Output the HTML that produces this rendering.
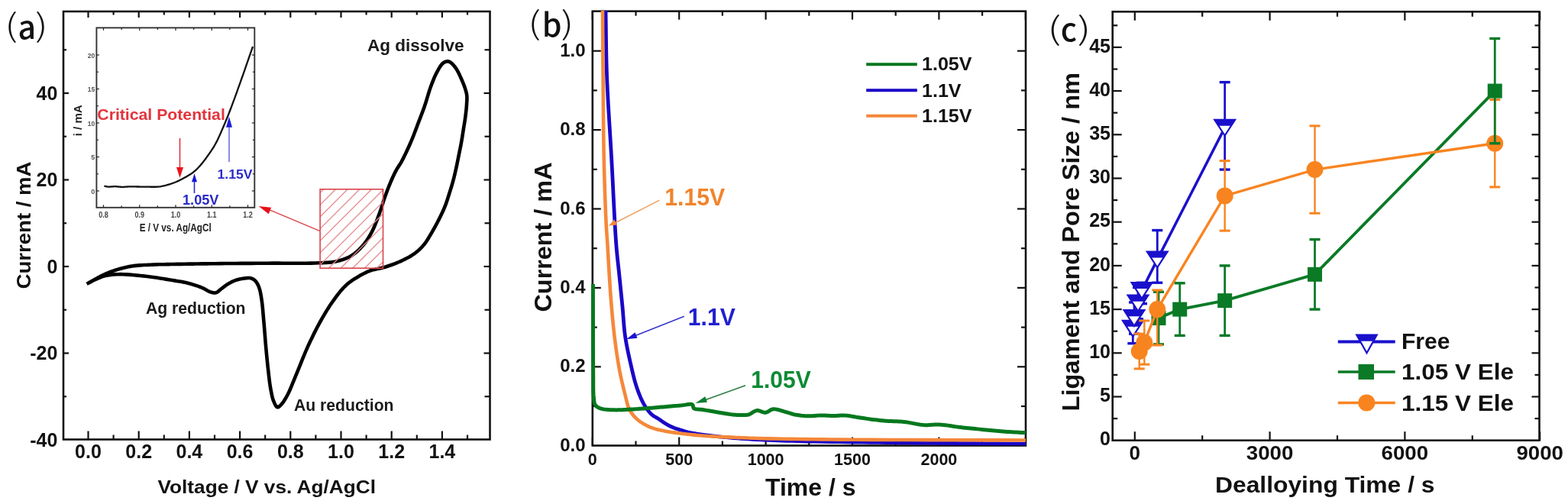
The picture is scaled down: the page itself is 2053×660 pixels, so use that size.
<!DOCTYPE html>
<html><head><meta charset="utf-8"><title>Figure</title>
<style>
html,body{margin:0;padding:0;background:#fff;}
svg{display:block;}
</style></head>
<body>
<svg width="2053" height="660" viewBox="0 0 2053 660" font-family="'Liberation Sans', Arial, Helvetica, sans-serif">
<rect x="0" y="0" width="2053" height="660" fill="#fff"/>
<rect x='83' y='15' width='558.5' height='560.5' fill='none' stroke='#111' stroke-width='2.6'/>
<line x1='115.5' y1='575.5' x2='115.5' y2='564.5' stroke='#111' stroke-width='2.2'/>
<line x1='115.5' y1='15' x2='115.5' y2='23' stroke='#111' stroke-width='2.2'/>
<line x1='148.6' y1='575.5' x2='148.6' y2='569.5' stroke='#111' stroke-width='2.2'/>
<line x1='148.6' y1='15' x2='148.6' y2='19.5' stroke='#111' stroke-width='2.2'/>
<line x1='181.7' y1='575.5' x2='181.7' y2='564.5' stroke='#111' stroke-width='2.2'/>
<line x1='181.7' y1='15' x2='181.7' y2='23' stroke='#111' stroke-width='2.2'/>
<line x1='214.8' y1='575.5' x2='214.8' y2='569.5' stroke='#111' stroke-width='2.2'/>
<line x1='214.8' y1='15' x2='214.8' y2='19.5' stroke='#111' stroke-width='2.2'/>
<line x1='247.9' y1='575.5' x2='247.9' y2='564.5' stroke='#111' stroke-width='2.2'/>
<line x1='247.9' y1='15' x2='247.9' y2='23' stroke='#111' stroke-width='2.2'/>
<line x1='281' y1='575.5' x2='281' y2='569.5' stroke='#111' stroke-width='2.2'/>
<line x1='281' y1='15' x2='281' y2='19.5' stroke='#111' stroke-width='2.2'/>
<line x1='314.1' y1='575.5' x2='314.1' y2='564.5' stroke='#111' stroke-width='2.2'/>
<line x1='314.1' y1='15' x2='314.1' y2='23' stroke='#111' stroke-width='2.2'/>
<line x1='347.2' y1='575.5' x2='347.2' y2='569.5' stroke='#111' stroke-width='2.2'/>
<line x1='347.2' y1='15' x2='347.2' y2='19.5' stroke='#111' stroke-width='2.2'/>
<line x1='380.3' y1='575.5' x2='380.3' y2='564.5' stroke='#111' stroke-width='2.2'/>
<line x1='380.3' y1='15' x2='380.3' y2='23' stroke='#111' stroke-width='2.2'/>
<line x1='413.4' y1='575.5' x2='413.4' y2='569.5' stroke='#111' stroke-width='2.2'/>
<line x1='413.4' y1='15' x2='413.4' y2='19.5' stroke='#111' stroke-width='2.2'/>
<line x1='446.5' y1='575.5' x2='446.5' y2='564.5' stroke='#111' stroke-width='2.2'/>
<line x1='446.5' y1='15' x2='446.5' y2='23' stroke='#111' stroke-width='2.2'/>
<line x1='479.6' y1='575.5' x2='479.6' y2='569.5' stroke='#111' stroke-width='2.2'/>
<line x1='479.6' y1='15' x2='479.6' y2='19.5' stroke='#111' stroke-width='2.2'/>
<line x1='512.7' y1='575.5' x2='512.7' y2='564.5' stroke='#111' stroke-width='2.2'/>
<line x1='512.7' y1='15' x2='512.7' y2='23' stroke='#111' stroke-width='2.2'/>
<line x1='545.8' y1='575.5' x2='545.8' y2='569.5' stroke='#111' stroke-width='2.2'/>
<line x1='545.8' y1='15' x2='545.8' y2='19.5' stroke='#111' stroke-width='2.2'/>
<line x1='578.9' y1='575.5' x2='578.9' y2='564.5' stroke='#111' stroke-width='2.2'/>
<line x1='578.9' y1='15' x2='578.9' y2='23' stroke='#111' stroke-width='2.2'/>
<line x1='612' y1='575.5' x2='612' y2='569.5' stroke='#111' stroke-width='2.2'/>
<line x1='612' y1='15' x2='612' y2='19.5' stroke='#111' stroke-width='2.2'/>
<line x1='83' y1='519.25' x2='87' y2='519.25' stroke='#111' stroke-width='2.2'/>
<line x1='641.5' y1='519.25' x2='634.5' y2='519.25' stroke='#111' stroke-width='2.2'/>
<line x1='83' y1='462.5' x2='90' y2='462.5' stroke='#111' stroke-width='2.2'/>
<line x1='641.5' y1='462.5' x2='633.5' y2='462.5' stroke='#111' stroke-width='2.2'/>
<line x1='83' y1='405.75' x2='87' y2='405.75' stroke='#111' stroke-width='2.2'/>
<line x1='641.5' y1='405.75' x2='634.5' y2='405.75' stroke='#111' stroke-width='2.2'/>
<line x1='83' y1='349' x2='90' y2='349' stroke='#111' stroke-width='2.2'/>
<line x1='641.5' y1='349' x2='633.5' y2='349' stroke='#111' stroke-width='2.2'/>
<line x1='83' y1='292.25' x2='87' y2='292.25' stroke='#111' stroke-width='2.2'/>
<line x1='641.5' y1='292.25' x2='634.5' y2='292.25' stroke='#111' stroke-width='2.2'/>
<line x1='83' y1='235.5' x2='90' y2='235.5' stroke='#111' stroke-width='2.2'/>
<line x1='641.5' y1='235.5' x2='633.5' y2='235.5' stroke='#111' stroke-width='2.2'/>
<line x1='83' y1='178.75' x2='87' y2='178.75' stroke='#111' stroke-width='2.2'/>
<line x1='641.5' y1='178.75' x2='634.5' y2='178.75' stroke='#111' stroke-width='2.2'/>
<line x1='83' y1='122' x2='90' y2='122' stroke='#111' stroke-width='2.2'/>
<line x1='641.5' y1='122' x2='633.5' y2='122' stroke='#111' stroke-width='2.2'/>
<line x1='83' y1='65.25' x2='87' y2='65.25' stroke='#111' stroke-width='2.2'/>
<line x1='641.5' y1='65.25' x2='634.5' y2='65.25' stroke='#111' stroke-width='2.2'/>
<text x='115.5' y='600' font-size='25' font-weight='bold' fill='#111' text-anchor='middle'>0.0</text>
<text x='181.7' y='600' font-size='25' font-weight='bold' fill='#111' text-anchor='middle'>0.2</text>
<text x='247.9' y='600' font-size='25' font-weight='bold' fill='#111' text-anchor='middle'>0.4</text>
<text x='314.1' y='600' font-size='25' font-weight='bold' fill='#111' text-anchor='middle'>0.6</text>
<text x='380.3' y='600' font-size='25' font-weight='bold' fill='#111' text-anchor='middle'>0.8</text>
<text x='446.5' y='600' font-size='25' font-weight='bold' fill='#111' text-anchor='middle'>1.0</text>
<text x='512.7' y='600' font-size='25' font-weight='bold' fill='#111' text-anchor='middle'>1.2</text>
<text x='578.9' y='600' font-size='25' font-weight='bold' fill='#111' text-anchor='middle'>1.4</text>
<text x='75.3' y='584.8' font-size='25' font-weight='bold' fill='#111' text-anchor='end'>-40</text>
<text x='75.3' y='471.3' font-size='25' font-weight='bold' fill='#111' text-anchor='end'>-20</text>
<text x='75.3' y='357.8' font-size='25' font-weight='bold' fill='#111' text-anchor='end'>0</text>
<text x='75.3' y='244.3' font-size='25' font-weight='bold' fill='#111' text-anchor='end'>20</text>
<text x='75.3' y='130.8' font-size='25' font-weight='bold' fill='#111' text-anchor='end'>40</text>
<text x='206.5' y='646' font-size='24.5' font-weight='bold' fill='#111' textLength='285.5' lengthAdjust='spacingAndGlyphs'>Voltage / V vs. Ag/AgCl</text>
<text x='40' y='378.5' font-size='25.5' font-weight='bold' fill='#111' textLength='167' lengthAdjust='spacingAndGlyphs' transform='rotate(-90 40 378.5)'>Current / mA</text>
<text x='481' y='67' font-size='22.3' font-weight='bold' fill='#1a1a1a' textLength='126.5' lengthAdjust='spacingAndGlyphs'>Ag dissolve</text>
<text x='191' y='411' font-size='21.2' font-weight='bold' fill='#1a1a1a' textLength='130.5' lengthAdjust='spacingAndGlyphs'>Ag reduction</text>
<text x='385' y='537.5' font-size='21.2' font-weight='bold' fill='#1a1a1a' textLength='130.5' lengthAdjust='spacingAndGlyphs'>Au reduction</text>
<defs><clipPath id='boxclip'><rect x='419.1' y='247.8' width='82.4' height='103.4'/></clipPath></defs>
<path d='M113.6,371.8 L114.64,371.22 L115.66,370.64 L116.69,370.07 L117.71,369.49 L118.74,368.91 L119.77,368.33 L120.81,367.75 L121.86,367.17 L122.92,366.59 L124,366 L125.18,365.35 L126.38,364.7 L127.58,364.04 L128.79,363.37 L130.01,362.7 L131.25,362.04 L132.51,361.39 L133.79,360.74 L135.08,360.11 L136.4,359.5 L137.86,358.85 L139.34,358.2 L140.84,357.57 L142.36,356.95 L143.91,356.34 L145.47,355.74 L147.06,355.16 L148.68,354.59 L150.33,354.04 L152,353.5 L153.92,352.91 L155.88,352.33 L157.87,351.76 L159.89,351.22 L161.95,350.69 L164.03,350.19 L166.15,349.71 L168.3,349.27 L170.49,348.87 L172.7,348.5 L175.27,348.14 L177.9,347.84 L180.59,347.59 L183.33,347.39 L186.1,347.22 L188.89,347.07 L191.69,346.95 L194.48,346.83 L197.26,346.72 L200,346.6 L202.66,346.49 L205.26,346.4 L207.81,346.32 L210.35,346.27 L212.91,346.22 L215.52,346.18 L218.2,346.14 L220.99,346.1 L223.92,346.05 L227,346 L231.69,345.92 L236.67,345.83 L241.89,345.74 L247.33,345.66 L252.93,345.58 L258.65,345.49 L264.46,345.41 L270.32,345.34 L276.18,345.27 L282,345.2 L288.51,345.13 L295.14,345.07 L301.87,345.02 L308.68,344.97 L315.55,344.92 L322.45,344.87 L329.37,344.83 L336.28,344.79 L343.17,344.74 L350,344.7 L356.97,344.67 L364.21,344.67 L371.61,344.69 L379.04,344.72 L386.39,344.73 L393.56,344.73 L400.42,344.7 L406.85,344.62 L412.75,344.49 L418,344.3 L420.64,344.18 L423.08,344.08 L425.36,343.98 L427.5,343.87 L429.55,343.75 L431.53,343.59 L433.47,343.39 L435.41,343.13 L437.37,342.8 L439.4,342.4 L441.44,341.94 L443.47,341.45 L445.5,340.91 L447.53,340.33 L449.53,339.69 L451.5,338.99 L453.44,338.23 L455.35,337.39 L457.2,336.49 L459,335.5 L460.76,334.42 L462.49,333.24 L464.18,331.99 L465.84,330.66 L467.45,329.27 L469.02,327.82 L470.56,326.34 L472.05,324.81 L473.5,323.26 L474.9,321.7 L476.26,320.1 L477.57,318.46 L478.83,316.79 L480.05,315.07 L481.23,313.32 L482.38,311.53 L483.49,309.7 L484.58,307.84 L485.65,305.94 L486.7,304 L487.82,301.81 L488.9,299.55 L489.94,297.23 L490.94,294.85 L491.92,292.45 L492.87,290.01 L493.8,287.57 L494.71,285.13 L495.61,282.7 L496.5,280.3 L497.36,277.94 L498.18,275.56 L498.98,273.17 L499.76,270.78 L500.52,268.39 L501.28,266.01 L502.04,263.64 L502.81,261.29 L503.59,258.98 L504.4,256.7 L505.17,254.59 L505.95,252.48 L506.73,250.39 L507.52,248.3 L508.32,246.24 L509.11,244.21 L509.91,242.21 L510.71,240.26 L511.51,238.35 L512.3,236.5 L512.97,234.98 L513.63,233.49 L514.28,232.03 L514.94,230.6 L515.6,229.2 L516.26,227.83 L516.93,226.47 L517.61,225.13 L518.3,223.81 L519,222.5 L519.66,221.34 L520.32,220.24 L520.98,219.18 L521.65,218.15 L522.33,217.12 L523.02,216.07 L523.72,214.99 L524.43,213.84 L525.16,212.62 L525.9,211.3 L527.04,209.16 L528.24,206.83 L529.48,204.34 L530.76,201.73 L532.04,199.03 L533.33,196.27 L534.61,193.5 L535.86,190.74 L537.06,188.03 L538.2,185.4 L539.24,182.93 L540.26,180.46 L541.24,177.99 L542.2,175.51 L543.14,173.05 L544.07,170.59 L544.98,168.14 L545.89,165.71 L546.79,163.29 L547.7,160.9 L548.55,158.68 L549.4,156.49 L550.23,154.34 L551.06,152.19 L551.88,150.05 L552.7,147.91 L553.51,145.76 L554.31,143.57 L555.11,141.36 L555.9,139.1 L556.74,136.59 L557.56,134.01 L558.37,131.37 L559.17,128.71 L559.96,126.03 L560.76,123.37 L561.57,120.73 L562.39,118.14 L563.23,115.63 L564.1,113.2 L564.87,111.13 L565.65,109.08 L566.43,107.06 L567.23,105.06 L568.03,103.1 L568.85,101.19 L569.68,99.33 L570.53,97.52 L571.41,95.78 L572.3,94.1 L573.05,92.73 L573.81,91.35 L574.58,89.98 L575.36,88.65 L576.16,87.36 L576.97,86.14 L577.79,85.02 L578.64,84 L579.51,83.13 L580.4,82.4 L581.05,81.96 L581.72,81.57 L582.41,81.23 L583.1,80.93 L583.8,80.7 L584.51,80.52 L585.22,80.41 L585.92,80.36 L586.61,80.39 L587.3,80.5 L588.13,80.76 L588.96,81.15 L589.8,81.67 L590.63,82.29 L591.46,83 L592.28,83.78 L593.09,84.62 L593.88,85.5 L594.65,86.4 L595.4,87.3 L596.32,88.5 L597.22,89.79 L598.08,91.17 L598.93,92.63 L599.75,94.15 L600.55,95.72 L601.33,97.34 L602.1,98.98 L602.86,100.64 L603.6,102.3 L604.46,104.27 L605.35,106.34 L606.24,108.49 L607.12,110.69 L607.96,112.91 L608.75,115.14 L609.46,117.34 L610.09,119.48 L610.61,121.54 L611,123.5 L611.21,124.92 L611.34,126.29 L611.41,127.61 L611.42,128.9 L611.4,130.17 L611.34,131.44 L611.26,132.72 L611.17,134.01 L611.08,135.33 L611,136.7 L610.91,138.28 L610.79,139.9 L610.65,141.54 L610.49,143.21 L610.32,144.88 L610.13,146.57 L609.93,148.26 L609.73,149.95 L609.51,151.63 L609.3,153.3 L609.08,154.97 L608.84,156.64 L608.59,158.31 L608.33,159.98 L608.06,161.65 L607.79,163.32 L607.52,164.99 L607.24,166.66 L606.97,168.33 L606.7,170 L606.44,171.67 L606.18,173.34 L605.92,175.01 L605.66,176.69 L605.39,178.36 L605.13,180.03 L604.86,181.7 L604.58,183.37 L604.29,185.03 L604,186.7 L603.69,188.36 L603.38,190.03 L603.06,191.69 L602.73,193.35 L602.39,195 L602.06,196.66 L601.72,198.32 L601.38,199.98 L601.04,201.64 L600.7,203.3 L600.37,204.97 L600.04,206.64 L599.7,208.31 L599.37,209.98 L599.04,211.65 L598.71,213.32 L598.37,214.99 L598.02,216.66 L597.66,218.33 L597.3,220 L596.93,221.67 L596.55,223.35 L596.17,225.02 L595.79,226.69 L595.4,228.37 L595,230.04 L594.59,231.71 L594.17,233.37 L593.74,235.04 L593.3,236.7 L592.84,238.37 L592.37,240.03 L591.89,241.69 L591.4,243.35 L590.9,245.01 L590.39,246.67 L589.87,248.33 L589.35,249.98 L588.83,251.64 L588.3,253.3 L587.77,254.97 L587.25,256.65 L586.72,258.32 L586.19,260 L585.65,261.67 L585.1,263.35 L584.54,265.02 L583.95,266.68 L583.34,268.34 L582.7,270 L582.02,271.69 L581.31,273.37 L580.57,275.05 L579.82,276.72 L579.05,278.39 L578.26,280.06 L577.46,281.72 L576.65,283.39 L575.83,285.04 L575,286.7 L574.16,288.37 L573.3,290.04 L572.44,291.71 L571.56,293.37 L570.67,295.02 L569.77,296.68 L568.85,298.33 L567.92,299.99 L566.97,301.64 L566,303.3 L564.98,305.04 L563.95,306.82 L562.9,308.62 L561.84,310.42 L560.76,312.21 L559.66,313.97 L558.54,315.7 L557.39,317.37 L556.21,318.98 L555,320.5 L553.9,321.8 L552.78,323.05 L551.65,324.25 L550.51,325.42 L549.34,326.54 L548.14,327.64 L546.91,328.71 L545.65,329.75 L544.35,330.78 L543,331.8 L541.49,332.88 L539.92,333.93 L538.32,334.95 L536.67,335.93 L534.98,336.9 L533.26,337.83 L531.51,338.75 L529.73,339.65 L527.93,340.53 L526.1,341.4 L524.05,342.34 L521.93,343.26 L519.76,344.16 L517.55,345.04 L515.31,345.9 L513.07,346.73 L510.82,347.52 L508.58,348.28 L506.37,349.01 L504.2,349.7 L502.2,350.28 L500.2,350.78 L498.19,351.24 L496.18,351.66 L494.19,352.06 L492.22,352.47 L490.28,352.9 L488.37,353.37 L486.51,353.9 L484.7,354.5 L483.12,355.1 L481.59,355.72 L480.1,356.36 L478.63,357.04 L477.19,357.74 L475.77,358.47 L474.34,359.23 L472.91,360.02 L471.47,360.84 L470,361.7 L468.33,362.68 L466.65,363.69 L464.95,364.72 L463.25,365.79 L461.55,366.91 L459.86,368.07 L458.18,369.28 L456.52,370.55 L454.89,371.89 L453.3,373.3 L451.54,374.99 L449.8,376.77 L448.1,378.64 L446.42,380.58 L444.76,382.59 L443.13,384.66 L441.5,386.77 L439.89,388.92 L438.29,391.1 L436.7,393.3 L434.96,395.75 L433.23,398.27 L431.53,400.83 L429.84,403.45 L428.17,406.11 L426.51,408.81 L424.86,411.56 L423.23,414.34 L421.61,417.16 L420,420 L418.26,423.13 L416.54,426.32 L414.84,429.55 L413.15,432.82 L411.48,436.14 L409.82,439.5 L408.17,442.9 L406.54,446.34 L404.91,449.8 L403.3,453.3 L401.57,457.17 L399.83,461.18 L398.11,465.29 L396.39,469.46 L394.7,473.64 L393.03,477.79 L391.39,481.88 L389.78,485.85 L388.22,489.67 L386.7,493.3 L385.55,496.06 L384.43,498.78 L383.34,501.46 L382.28,504.07 L381.24,506.63 L380.2,509.1 L379.16,511.48 L378.12,513.77 L377.07,515.95 L376,518 L375.2,519.45 L374.4,520.86 L373.59,522.24 L372.78,523.57 L371.97,524.84 L371.16,526.04 L370.35,527.17 L369.56,528.21 L368.77,529.16 L368,530 L367.52,530.5 L367.03,531 L366.55,531.49 L366.07,531.95 L365.59,532.37 L365.11,532.73 L364.65,533.02 L364.19,533.22 L363.74,533.32 L363.3,533.3 L362.77,533.1 L362.24,532.7 L361.73,532.15 L361.22,531.46 L360.73,530.66 L360.25,529.79 L359.79,528.85 L359.34,527.9 L358.91,526.93 L358.5,526 L357.97,524.7 L357.49,523.3 L357.04,521.83 L356.63,520.28 L356.24,518.67 L355.87,517 L355.52,515.29 L355.18,513.55 L354.84,511.78 L354.5,510 L354.09,507.74 L353.72,505.41 L353.36,503 L353.02,500.53 L352.7,498.01 L352.39,495.44 L352.09,492.85 L351.8,490.24 L351.5,487.62 L351.2,485 L350.87,482.12 L350.55,479.22 L350.24,476.28 L349.94,473.31 L349.64,470.32 L349.35,467.3 L349.06,464.26 L348.77,461.19 L348.48,458.11 L348.2,455 L347.9,451.59 L347.6,448.11 L347.31,444.58 L347.03,441.01 L346.74,437.42 L346.46,433.85 L346.18,430.3 L345.89,426.79 L345.6,423.35 L345.3,420 L345.04,417.04 L344.78,414.07 L344.54,411.12 L344.29,408.19 L344.04,405.31 L343.78,402.47 L343.5,399.71 L343.19,397.04 L342.86,394.46 L342.5,392 L342.21,390.19 L341.93,388.41 L341.64,386.68 L341.34,384.99 L341.03,383.35 L340.7,381.77 L340.33,380.24 L339.93,378.76 L339.49,377.35 L339,376 L338.59,374.99 L338.17,374 L337.72,373.04 L337.26,372.12 L336.77,371.23 L336.27,370.38 L335.74,369.58 L335.19,368.83 L334.61,368.13 L334,367.5 L333.47,367.02 L332.93,366.56 L332.36,366.15 L331.78,365.77 L331.19,365.42 L330.58,365.11 L329.95,364.83 L329.31,364.58 L328.66,364.38 L328,364.2 L327.27,364.06 L326.51,363.98 L325.74,363.95 L324.95,363.96 L324.15,364.01 L323.33,364.09 L322.51,364.18 L321.68,364.29 L320.84,364.4 L320,364.5 L319.04,364.62 L318.06,364.75 L317.06,364.9 L316.06,365.06 L315.04,365.25 L314.02,365.45 L313.01,365.68 L311.99,365.92 L310.99,366.2 L310,366.5 L308.98,366.84 L307.97,367.21 L306.96,367.6 L305.95,368.02 L304.94,368.47 L303.95,368.93 L302.95,369.42 L301.96,369.93 L300.98,370.45 L300,371 L298.97,371.61 L297.93,372.27 L296.9,372.96 L295.87,373.68 L294.85,374.41 L293.84,375.16 L292.85,375.89 L291.87,376.62 L290.92,377.33 L290,378 L289.25,378.57 L288.53,379.18 L287.83,379.81 L287.14,380.43 L286.47,381.03 L285.8,381.61 L285.12,382.12 L284.43,382.57 L283.73,382.94 L283,383.2 L282.33,383.35 L281.67,383.43 L281,383.46 L280.32,383.43 L279.64,383.36 L278.94,383.24 L278.23,383.09 L277.51,382.92 L276.77,382.72 L276,382.5 L274.9,382.13 L273.76,381.65 L272.6,381.08 L271.4,380.44 L270.17,379.76 L268.92,379.05 L267.63,378.34 L266.32,377.65 L264.97,376.99 L263.6,376.4 L261.91,375.74 L260.15,375.08 L258.32,374.44 L256.45,373.81 L254.55,373.19 L252.63,372.6 L250.7,372.03 L248.78,371.49 L246.87,370.98 L245,370.5 L243.25,370.08 L241.55,369.71 L239.88,369.38 L238.21,369.07 L236.54,368.78 L234.83,368.5 L233.07,368.22 L231.24,367.94 L229.33,367.63 L227.3,367.3 L224.2,366.78 L220.87,366.22 L217.37,365.64 L213.73,365.04 L209.98,364.44 L206.16,363.84 L202.32,363.27 L198.48,362.73 L194.7,362.24 L191,361.8 L187.3,361.39 L183.51,360.99 L179.67,360.59 L175.81,360.22 L171.97,359.89 L168.2,359.61 L164.52,359.38 L160.99,359.23 L157.64,359.17 L154.5,359.2 L152.42,359.27 L150.41,359.38 L148.48,359.52 L146.62,359.69 L144.81,359.9 L143.05,360.14 L141.34,360.42 L139.67,360.74 L138.02,361.1 L136.4,361.5 L135.04,361.88 L133.72,362.31 L132.43,362.77 L131.17,363.27 L129.94,363.78 L128.73,364.32 L127.53,364.86 L126.35,365.41 L125.17,365.96 L124,366.5 L122.91,367.01 L121.85,367.52 L120.8,368.05 L119.76,368.58 L118.73,369.11 L117.7,369.65 L116.68,370.19 L115.66,370.73 L114.63,371.27 L113.6,371.8' fill='none' stroke='#000' stroke-width='4.6' stroke-linejoin='round'/>
<path d='M257.6,351.2 L361,247.8 M273.3,351.2 L376.7,247.8 M289,351.2 L392.4,247.8 M304.7,351.2 L408.1,247.8 M320.4,351.2 L423.8,247.8 M336.1,351.2 L439.5,247.8 M351.8,351.2 L455.2,247.8 M367.5,351.2 L470.9,247.8 M383.2,351.2 L486.6,247.8 M398.9,351.2 L502.3,247.8 M414.6,351.2 L518,247.8 M430.3,351.2 L533.7,247.8 M446,351.2 L549.4,247.8 M461.7,351.2 L565.1,247.8 M477.4,351.2 L580.8,247.8 M493.1,351.2 L596.5,247.8 M508.8,351.2 L612.2,247.8 M524.5,351.2 L627.9,247.8 M540.2,351.2 L643.6,247.8 M555.9,351.2 L659.3,247.8 M571.6,351.2 L675,247.8 M587.3,351.2 L690.7,247.8 M603,351.2 L706.4,247.8 M618.7,351.2 L722.1,247.8 M634.4,351.2 L737.8,247.8 M650.1,351.2 L753.5,247.8 M665.8,351.2 L769.2,247.8 M681.5,351.2 L784.9,247.8 M697.2,351.2 L800.6,247.8 M712.9,351.2 L816.3,247.8' stroke='#e48a8e' stroke-width='1.3' fill='none' clip-path='url(#boxclip)'/>
<rect x='419.1' y='247.8' width='82.4' height='103.4' fill='none' stroke='#d9434a' stroke-width='1.6'/>
<line x1='418.5' y1='302.3' x2='350' y2='273.6' stroke='#d9434a' stroke-width='1.4'/>
<polygon points='338.6,270 355.12,271.82 351.75,280.17' fill='#e8101a'/>
<rect x='126.4' y='36.4' width='206.9' height='235.4' fill='#fff' stroke='#333' stroke-width='1.9'/>
<line x1='135.5' y1='271.8' x2='135.5' y2='268.3' stroke='#222' stroke-width='1.2'/>
<line x1='135.5' y1='36.4' x2='135.5' y2='39.9' stroke='#222' stroke-width='1.2'/>
<line x1='159.12' y1='271.8' x2='159.12' y2='269.3' stroke='#222' stroke-width='1.2'/>
<line x1='159.12' y1='36.4' x2='159.12' y2='38.9' stroke='#222' stroke-width='1.2'/>
<line x1='182.75' y1='271.8' x2='182.75' y2='268.3' stroke='#222' stroke-width='1.2'/>
<line x1='182.75' y1='36.4' x2='182.75' y2='39.9' stroke='#222' stroke-width='1.2'/>
<line x1='206.37' y1='271.8' x2='206.37' y2='269.3' stroke='#222' stroke-width='1.2'/>
<line x1='206.37' y1='36.4' x2='206.37' y2='38.9' stroke='#222' stroke-width='1.2'/>
<line x1='230' y1='271.8' x2='230' y2='268.3' stroke='#222' stroke-width='1.2'/>
<line x1='230' y1='36.4' x2='230' y2='39.9' stroke='#222' stroke-width='1.2'/>
<line x1='253.62' y1='271.8' x2='253.62' y2='269.3' stroke='#222' stroke-width='1.2'/>
<line x1='253.62' y1='36.4' x2='253.62' y2='38.9' stroke='#222' stroke-width='1.2'/>
<line x1='277.25' y1='271.8' x2='277.25' y2='268.3' stroke='#222' stroke-width='1.2'/>
<line x1='277.25' y1='36.4' x2='277.25' y2='39.9' stroke='#222' stroke-width='1.2'/>
<line x1='300.87' y1='271.8' x2='300.87' y2='269.3' stroke='#222' stroke-width='1.2'/>
<line x1='300.87' y1='36.4' x2='300.87' y2='38.9' stroke='#222' stroke-width='1.2'/>
<line x1='324.5' y1='271.8' x2='324.5' y2='268.3' stroke='#222' stroke-width='1.2'/>
<line x1='324.5' y1='36.4' x2='324.5' y2='39.9' stroke='#222' stroke-width='1.2'/>
<line x1='126.4' y1='250' x2='129.9' y2='250' stroke='#222' stroke-width='1.2'/>
<line x1='333.3' y1='250' x2='329.8' y2='250' stroke='#222' stroke-width='1.2'/>
<line x1='126.4' y1='227.75' x2='128.9' y2='227.75' stroke='#222' stroke-width='1.2'/>
<line x1='333.3' y1='227.75' x2='330.8' y2='227.75' stroke='#222' stroke-width='1.2'/>
<line x1='126.4' y1='205.5' x2='129.9' y2='205.5' stroke='#222' stroke-width='1.2'/>
<line x1='333.3' y1='205.5' x2='329.8' y2='205.5' stroke='#222' stroke-width='1.2'/>
<line x1='126.4' y1='183.25' x2='128.9' y2='183.25' stroke='#222' stroke-width='1.2'/>
<line x1='333.3' y1='183.25' x2='330.8' y2='183.25' stroke='#222' stroke-width='1.2'/>
<line x1='126.4' y1='161' x2='129.9' y2='161' stroke='#222' stroke-width='1.2'/>
<line x1='333.3' y1='161' x2='329.8' y2='161' stroke='#222' stroke-width='1.2'/>
<line x1='126.4' y1='138.75' x2='128.9' y2='138.75' stroke='#222' stroke-width='1.2'/>
<line x1='333.3' y1='138.75' x2='330.8' y2='138.75' stroke='#222' stroke-width='1.2'/>
<line x1='126.4' y1='116.5' x2='129.9' y2='116.5' stroke='#222' stroke-width='1.2'/>
<line x1='333.3' y1='116.5' x2='329.8' y2='116.5' stroke='#222' stroke-width='1.2'/>
<line x1='126.4' y1='94.25' x2='128.9' y2='94.25' stroke='#222' stroke-width='1.2'/>
<line x1='333.3' y1='94.25' x2='330.8' y2='94.25' stroke='#222' stroke-width='1.2'/>
<line x1='126.4' y1='72' x2='129.9' y2='72' stroke='#222' stroke-width='1.2'/>
<line x1='333.3' y1='72' x2='329.8' y2='72' stroke='#222' stroke-width='1.2'/>
<text x='135.5' y='285' font-size='10.5' font-weight='bold' fill='#444' text-anchor='middle' textLength='12.5' lengthAdjust='spacingAndGlyphs'>0.8</text>
<text x='182.75' y='285' font-size='10.5' font-weight='bold' fill='#444' text-anchor='middle' textLength='12.5' lengthAdjust='spacingAndGlyphs'>0.9</text>
<text x='230' y='285' font-size='10.5' font-weight='bold' fill='#444' text-anchor='middle' textLength='12.5' lengthAdjust='spacingAndGlyphs'>1.0</text>
<text x='277.25' y='285' font-size='10.5' font-weight='bold' fill='#444' text-anchor='middle' textLength='12.5' lengthAdjust='spacingAndGlyphs'>1.1</text>
<text x='324.5' y='285' font-size='10.5' font-weight='bold' fill='#444' text-anchor='middle' textLength='12.5' lengthAdjust='spacingAndGlyphs'>1.2</text>
<text x='124.3' y='253.6' font-size='9.5' font-weight='bold' fill='#555' text-anchor='end' textLength='5' lengthAdjust='spacingAndGlyphs'>0</text>
<text x='124.3' y='209.1' font-size='9.5' font-weight='bold' fill='#555' text-anchor='end' textLength='5' lengthAdjust='spacingAndGlyphs'>5</text>
<text x='124.3' y='164.6' font-size='9.5' font-weight='bold' fill='#555' text-anchor='end' textLength='9.5' lengthAdjust='spacingAndGlyphs'>10</text>
<text x='124.3' y='120.1' font-size='9.5' font-weight='bold' fill='#555' text-anchor='end' textLength='9.5' lengthAdjust='spacingAndGlyphs'>15</text>
<text x='124.3' y='75.6' font-size='9.5' font-weight='bold' fill='#555' text-anchor='end' textLength='9.5' lengthAdjust='spacingAndGlyphs'>20</text>
<text x='182.7' y='302.7' font-size='15.5' font-weight='bold' fill='#222' textLength='94' lengthAdjust='spacingAndGlyphs'>E / V vs. Ag/AgCl</text>
<text x='107' y='178.3' font-size='15.5' font-weight='bold' fill='#222' textLength='41' lengthAdjust='spacingAndGlyphs' transform='rotate(-90 107 178.3)'>i / mA</text>
<path d='M136.4,243.6 L136.96,243.71 L137.5,243.82 L138.05,243.94 L138.59,244.06 L139.13,244.18 L139.68,244.29 L140.24,244.39 L140.81,244.48 L141.4,244.55 L142,244.6 L142.74,244.63 L143.49,244.62 L144.26,244.58 L145.05,244.52 L145.85,244.45 L146.67,244.38 L147.49,244.31 L148.32,244.25 L149.16,244.21 L150,244.2 L150.95,244.22 L151.93,244.27 L152.92,244.33 L153.92,244.41 L154.93,244.49 L155.95,244.58 L156.96,244.66 L157.98,244.73 L158.99,244.78 L160,244.8 L160.98,244.8 L161.94,244.78 L162.89,244.74 L163.83,244.69 L164.78,244.63 L165.75,244.58 L166.75,244.52 L167.78,244.47 L168.86,244.43 L170,244.4 L171.72,244.39 L173.57,244.39 L175.51,244.41 L177.53,244.44 L179.6,244.48 L181.71,244.51 L183.82,244.55 L185.92,244.58 L187.99,244.6 L190,244.6 L191.92,244.61 L193.84,244.64 L195.76,244.69 L197.67,244.73 L199.57,244.76 L201.47,244.77 L203.36,244.74 L205.25,244.66 L207.13,244.52 L209,244.3 L210.86,244.02 L212.71,243.69 L214.56,243.31 L216.4,242.89 L218.24,242.42 L220.06,241.91 L221.88,241.36 L223.7,240.78 L225.5,240.15 L227.3,239.5 L229.18,238.76 L231.09,237.96 L233.02,237.09 L234.94,236.17 L236.85,235.23 L238.72,234.27 L240.53,233.3 L242.28,232.34 L243.94,231.4 L245.5,230.5 L246.6,229.85 L247.65,229.22 L248.65,228.6 L249.62,227.98 L250.55,227.37 L251.46,226.74 L252.35,226.1 L253.23,225.43 L254.12,224.73 L255,224 L255.92,223.2 L256.81,222.37 L257.7,221.51 L258.56,220.63 L259.42,219.73 L260.27,218.81 L261.11,217.87 L261.94,216.93 L262.77,215.97 L263.6,215 L264.47,213.97 L265.32,212.93 L266.16,211.88 L267,210.81 L267.83,209.72 L268.66,208.62 L269.49,207.5 L270.32,206.36 L271.16,205.19 L272,204 L272.97,202.63 L273.95,201.24 L274.94,199.82 L275.93,198.39 L276.93,196.92 L277.92,195.42 L278.9,193.89 L279.88,192.31 L280.85,190.68 L281.8,189 L282.94,186.89 L284.07,184.68 L285.19,182.38 L286.3,180.02 L287.41,177.61 L288.5,175.17 L289.57,172.72 L290.63,170.28 L291.68,167.87 L292.7,165.5 L293.66,163.27 L294.59,161.09 L295.49,158.93 L296.37,156.79 L297.24,154.63 L298.12,152.45 L299,150.21 L299.91,147.9 L300.83,145.51 L301.8,143 L303.11,139.55 L304.47,135.93 L305.86,132.16 L307.29,128.28 L308.73,124.3 L310.19,120.27 L311.65,116.19 L313.11,112.1 L314.56,108.03 L316,104 L317.49,99.79 L318.99,95.54 L320.49,91.26 L321.99,86.96 L323.49,82.64 L324.99,78.31 L326.5,73.97 L328,69.64 L329.5,65.31 L331,61' fill='none' stroke='#111' stroke-width='2.3'/>
<text x='127.3' y='157.3' font-size='20.5' font-weight='bold' fill='#e3343c' textLength='167.5' lengthAdjust='spacingAndGlyphs'>Critical Potential</text>
<line x1='235.5' y1='181' x2='235.5' y2='222' stroke='#e3343c' stroke-width='1.6'/>
<polygon points='235.5,233 231,219 240,219' fill='#e8141c'/>
<line x1='254.5' y1='253' x2='254.5' y2='236' stroke='#2a2ad0' stroke-width='1.6'/>
<polygon points='254.5,227.3 258,238.3 251,238.3' fill='#1515d8'/>
<line x1='300' y1='212' x2='300' y2='162' stroke='#7070e0' stroke-width='1.6'/>
<polygon points='300,152.7 304,166.7 296,166.7' fill='#1f1fd8'/>
<text x='284.5' y='233.6' font-size='16.5' font-weight='bold' fill='#2a2ac8' textLength='46' lengthAdjust='spacingAndGlyphs'>1.15V</text>
<text x='239' y='268.2' font-size='17.5' font-weight='bold' fill='#2a2ac8' textLength='47.5' lengthAdjust='spacingAndGlyphs'>1.05V</text>
<defs><clipPath id='bclip'><rect x='773.8' y='13.399999999999999' width='569.2' height='570.1'/></clipPath></defs>
<rect x='775.8' y='14.7' width='567.2' height='568.8' fill='none' stroke='#111' stroke-width='2.6'/>
<line x1='775.8' y1='583.5' x2='775.8' y2='572.5' stroke='#111' stroke-width='2.2'/>
<line x1='775.8' y1='14.7' x2='775.8' y2='25.7' stroke='#111' stroke-width='2.2'/>
<line x1='832.5' y1='583.5' x2='832.5' y2='577.5' stroke='#111' stroke-width='2.2'/>
<line x1='832.5' y1='14.7' x2='832.5' y2='20.7' stroke='#111' stroke-width='2.2'/>
<line x1='889.2' y1='583.5' x2='889.2' y2='572.5' stroke='#111' stroke-width='2.2'/>
<line x1='889.2' y1='14.7' x2='889.2' y2='25.7' stroke='#111' stroke-width='2.2'/>
<line x1='945.9' y1='583.5' x2='945.9' y2='577.5' stroke='#111' stroke-width='2.2'/>
<line x1='945.9' y1='14.7' x2='945.9' y2='20.7' stroke='#111' stroke-width='2.2'/>
<line x1='1002.6' y1='583.5' x2='1002.6' y2='572.5' stroke='#111' stroke-width='2.2'/>
<line x1='1002.6' y1='14.7' x2='1002.6' y2='25.7' stroke='#111' stroke-width='2.2'/>
<line x1='1059.3' y1='583.5' x2='1059.3' y2='577.5' stroke='#111' stroke-width='2.2'/>
<line x1='1059.3' y1='14.7' x2='1059.3' y2='20.7' stroke='#111' stroke-width='2.2'/>
<line x1='1116' y1='583.5' x2='1116' y2='572.5' stroke='#111' stroke-width='2.2'/>
<line x1='1116' y1='14.7' x2='1116' y2='25.7' stroke='#111' stroke-width='2.2'/>
<line x1='1172.7' y1='583.5' x2='1172.7' y2='577.5' stroke='#111' stroke-width='2.2'/>
<line x1='1172.7' y1='14.7' x2='1172.7' y2='20.7' stroke='#111' stroke-width='2.2'/>
<line x1='1229.4' y1='583.5' x2='1229.4' y2='572.5' stroke='#111' stroke-width='2.2'/>
<line x1='1229.4' y1='14.7' x2='1229.4' y2='25.7' stroke='#111' stroke-width='2.2'/>
<line x1='1286.1' y1='583.5' x2='1286.1' y2='577.5' stroke='#111' stroke-width='2.2'/>
<line x1='1286.1' y1='14.7' x2='1286.1' y2='20.7' stroke='#111' stroke-width='2.2'/>
<line x1='1342.8' y1='583.5' x2='1342.8' y2='572.5' stroke='#111' stroke-width='2.2'/>
<line x1='1342.8' y1='14.7' x2='1342.8' y2='25.7' stroke='#111' stroke-width='2.2'/>
<line x1='775.8' y1='532' x2='781.8' y2='532' stroke='#111' stroke-width='2.2'/>
<line x1='1343' y1='532' x2='1337' y2='532' stroke='#111' stroke-width='2.2'/>
<line x1='775.8' y1='480.3' x2='786.8' y2='480.3' stroke='#111' stroke-width='2.2'/>
<line x1='1343' y1='480.3' x2='1332' y2='480.3' stroke='#111' stroke-width='2.2'/>
<line x1='775.8' y1='428.6' x2='781.8' y2='428.6' stroke='#111' stroke-width='2.2'/>
<line x1='1343' y1='428.6' x2='1337' y2='428.6' stroke='#111' stroke-width='2.2'/>
<line x1='775.8' y1='376.9' x2='786.8' y2='376.9' stroke='#111' stroke-width='2.2'/>
<line x1='1343' y1='376.9' x2='1332' y2='376.9' stroke='#111' stroke-width='2.2'/>
<line x1='775.8' y1='325.2' x2='781.8' y2='325.2' stroke='#111' stroke-width='2.2'/>
<line x1='1343' y1='325.2' x2='1337' y2='325.2' stroke='#111' stroke-width='2.2'/>
<line x1='775.8' y1='273.5' x2='786.8' y2='273.5' stroke='#111' stroke-width='2.2'/>
<line x1='1343' y1='273.5' x2='1332' y2='273.5' stroke='#111' stroke-width='2.2'/>
<line x1='775.8' y1='221.8' x2='781.8' y2='221.8' stroke='#111' stroke-width='2.2'/>
<line x1='1343' y1='221.8' x2='1337' y2='221.8' stroke='#111' stroke-width='2.2'/>
<line x1='775.8' y1='170.1' x2='786.8' y2='170.1' stroke='#111' stroke-width='2.2'/>
<line x1='1343' y1='170.1' x2='1332' y2='170.1' stroke='#111' stroke-width='2.2'/>
<line x1='775.8' y1='118.4' x2='781.8' y2='118.4' stroke='#111' stroke-width='2.2'/>
<line x1='1343' y1='118.4' x2='1337' y2='118.4' stroke='#111' stroke-width='2.2'/>
<line x1='775.8' y1='66.7' x2='786.8' y2='66.7' stroke='#111' stroke-width='2.2'/>
<line x1='1343' y1='66.7' x2='1332' y2='66.7' stroke='#111' stroke-width='2.2'/>
<g clip-path='url(#bclip)'>
<path d='M793,14 L793.14,22.55 L793.26,31.03 L793.37,39.47 L793.47,47.9 L793.57,56.34 L793.7,64.84 L793.85,73.43 L794.05,82.13 L794.29,90.97 L794.6,100 L795.03,110.46 L795.54,121.14 L796.12,132.01 L796.75,143.03 L797.42,154.16 L798.11,165.35 L798.81,176.58 L799.5,187.78 L800.17,198.94 L800.8,210 L801.4,221.24 L802,232.85 L802.59,244.68 L803.17,256.56 L803.76,268.34 L804.35,279.85 L804.94,290.93 L805.55,301.42 L806.17,311.16 L806.8,320 L807.2,324.9 L807.6,329.46 L808.01,333.74 L808.42,337.8 L808.83,341.7 L809.24,345.5 L809.66,349.26 L810.07,353.04 L810.49,356.9 L810.9,360.9 L811.31,365 L811.73,369.1 L812.15,373.21 L812.56,377.33 L812.98,381.44 L813.39,385.54 L813.81,389.63 L814.21,393.71 L814.61,397.77 L815,401.8 L815.35,405.68 L815.67,409.55 L815.96,413.41 L816.25,417.25 L816.54,421.09 L816.85,424.9 L817.19,428.7 L817.57,432.49 L818,436.25 L818.5,440 L819.05,443.62 L819.65,447.24 L820.29,450.83 L820.97,454.42 L821.68,457.98 L822.41,461.53 L823.17,465.06 L823.94,468.56 L824.72,472.05 L825.5,475.5 L826.25,478.79 L827,482.09 L827.75,485.38 L828.52,488.66 L829.31,491.92 L830.13,495.13 L830.97,498.28 L831.84,501.37 L832.75,504.38 L833.7,507.3 L834.55,509.75 L835.42,512.17 L836.31,514.56 L837.22,516.9 L838.15,519.2 L839.11,521.43 L840.1,523.59 L841.1,525.68 L842.14,527.69 L843.2,529.6 L844.08,531.09 L844.97,532.54 L845.87,533.94 L846.79,535.3 L847.73,536.61 L848.68,537.86 L849.66,539.06 L850.65,540.2 L851.66,541.28 L852.7,542.3 L853.6,543.1 L854.53,543.82 L855.48,544.49 L856.44,545.11 L857.42,545.7 L858.4,546.27 L859.38,546.83 L860.36,547.4 L861.34,547.98 L862.3,548.6 L863.25,549.24 L864.2,549.9 L865.15,550.56 L866.09,551.22 L867.03,551.88 L867.98,552.54 L868.93,553.18 L869.88,553.81 L870.84,554.42 L871.8,555 L872.73,555.54 L873.67,556.07 L874.61,556.59 L875.56,557.09 L876.51,557.58 L877.46,558.06 L878.41,558.52 L879.37,558.96 L880.33,559.39 L881.3,559.8 L882.24,560.18 L883.18,560.53 L884.11,560.87 L885.05,561.19 L885.99,561.49 L886.94,561.79 L887.91,562.09 L888.88,562.39 L889.88,562.69 L890.9,563 L892.06,563.36 L893.21,563.73 L894.35,564.1 L895.5,564.46 L896.69,564.83 L897.92,565.19 L899.21,565.55 L900.57,565.91 L902.03,566.26 L903.6,566.6 L906.56,567.18 L909.83,567.74 L913.39,568.3 L917.16,568.85 L921.11,569.38 L925.19,569.9 L929.35,570.4 L933.53,570.89 L937.7,571.35 L941.8,571.8 L946.36,572.27 L950.99,572.72 L955.67,573.15 L960.41,573.56 L965.21,573.94 L970.06,574.31 L974.97,574.65 L979.93,574.98 L984.94,575.3 L990,575.6 L995.66,575.91 L1001.33,576.19 L1007.03,576.44 L1012.79,576.67 L1018.63,576.89 L1024.58,577.08 L1030.67,577.27 L1036.92,577.45 L1043.35,577.62 L1050,577.8 L1058.97,578.02 L1068.37,578.22 L1078.13,578.4 L1088.17,578.56 L1098.41,578.72 L1108.78,578.86 L1119.2,579 L1129.59,579.13 L1139.89,579.27 L1150,579.4 L1160.02,579.53 L1170.06,579.66 L1180.11,579.78 L1190.17,579.89 L1200.23,580 L1210.26,580.1 L1220.27,580.21 L1230.23,580.31 L1240.15,580.4 L1250,580.5 L1259.44,580.59 L1268.82,580.68 L1278.15,580.76 L1287.44,580.84 L1296.71,580.92 L1305.96,580.99 L1315.21,581.07 L1324.45,581.14 L1333.72,581.22 L1343,581.3' fill='none' stroke='#1a06c8' stroke-width='4.8'/>
<path d='M789,14 L789.06,22.55 L789.11,31.03 L789.17,39.47 L789.22,47.89 L789.27,56.34 L789.33,64.84 L789.39,73.42 L789.45,82.12 L789.52,90.97 L789.6,100 L789.69,110.53 L789.77,121.41 L789.85,132.56 L789.94,143.87 L790.03,155.25 L790.14,166.61 L790.27,177.86 L790.42,188.9 L790.59,199.65 L790.8,210 L791.01,218.69 L791.23,227.43 L791.48,236.15 L791.75,244.76 L792.02,253.2 L792.31,261.38 L792.6,269.23 L792.9,276.67 L793.2,283.62 L793.5,290 L793.68,293.56 L793.87,296.85 L794.05,299.92 L794.24,302.82 L794.43,305.61 L794.62,308.36 L794.81,311.11 L795.01,313.93 L795.2,316.88 L795.4,320 L795.63,323.83 L795.86,327.78 L796.09,331.81 L796.32,335.9 L796.56,340.06 L796.79,344.24 L797.04,348.43 L797.28,352.62 L797.54,356.78 L797.8,360.9 L798.06,364.99 L798.33,369.08 L798.6,373.17 L798.87,377.26 L799.14,381.35 L799.43,385.44 L799.73,389.53 L800.04,393.62 L800.36,397.71 L800.7,401.8 L801.05,405.89 L801.41,409.99 L801.78,414.08 L802.16,418.17 L802.55,422.26 L802.96,426.35 L803.39,430.44 L803.83,434.53 L804.3,438.62 L804.8,442.7 L805.32,446.82 L805.86,450.97 L806.41,455.13 L806.99,459.3 L807.59,463.46 L808.2,467.59 L808.84,471.69 L809.51,475.73 L810.19,479.71 L810.9,483.6 L811.57,487.07 L812.27,490.53 L812.99,493.97 L813.73,497.37 L814.49,500.73 L815.26,504.02 L816.03,507.24 L816.8,510.37 L817.56,513.39 L818.3,516.3 L818.85,518.5 L819.35,520.64 L819.84,522.74 L820.32,524.78 L820.81,526.77 L821.32,528.71 L821.88,530.59 L822.5,532.42 L823.2,534.19 L824,535.9 L824.77,537.36 L825.58,538.77 L826.44,540.14 L827.34,541.45 L828.28,542.73 L829.27,543.97 L830.3,545.17 L831.39,546.34 L832.52,547.48 L833.7,548.6 L835.06,549.78 L836.51,550.93 L838.03,552.04 L839.61,553.12 L841.24,554.15 L842.9,555.14 L844.58,556.09 L846.26,556.98 L847.94,557.82 L849.6,558.6 L851.13,559.27 L852.63,559.88 L854.12,560.43 L855.61,560.93 L857.13,561.4 L858.68,561.84 L860.27,562.26 L861.93,562.67 L863.67,563.08 L865.5,563.5 L868.22,564.08 L871.14,564.64 L874.21,565.17 L877.41,565.68 L880.69,566.16 L884.03,566.63 L887.4,567.07 L890.76,567.5 L894.07,567.91 L897.3,568.3 L900.47,568.67 L903.63,569.02 L906.8,569.35 L909.97,569.66 L913.14,569.95 L916.31,570.22 L919.48,570.48 L922.65,570.73 L925.82,570.97 L929,571.2 L932.17,571.41 L935.32,571.61 L938.46,571.79 L941.59,571.95 L944.74,572.1 L947.9,572.25 L951.09,572.38 L954.31,572.52 L957.58,572.66 L960.9,572.8 L964.57,572.96 L968.18,573.11 L971.77,573.26 L975.39,573.41 L979.07,573.55 L982.87,573.69 L986.82,573.82 L990.96,573.95 L995.34,574.08 L1000,574.2 L1007.94,574.38 L1016.35,574.56 L1025.23,574.72 L1034.58,574.87 L1044.39,575 L1054.64,575.14 L1065.34,575.26 L1076.47,575.38 L1088.02,575.49 L1100,575.6 L1120,575.75 L1141.81,575.88 L1165.1,575.98 L1189.56,576.07 L1214.87,576.15 L1240.7,576.21 L1266.76,576.28 L1292.7,576.34 L1318.22,576.42 L1343,576.5' fill='none' stroke='#f5883a' stroke-width='4.6'/>
<path d='M776.4,372 L776.41,377.8 L776.42,383.58 L776.43,389.37 L776.44,395.15 L776.44,400.94 L776.45,406.73 L776.46,412.53 L776.47,418.34 L776.49,424.16 L776.5,430 L776.51,436.05 L776.52,442.26 L776.53,448.57 L776.54,454.92 L776.55,461.22 L776.56,467.43 L776.58,473.48 L776.61,479.3 L776.65,484.83 L776.7,490 L776.73,493.49 L776.73,496.91 L776.73,500.25 L776.73,503.49 L776.74,506.62 L776.76,509.62 L776.82,512.47 L776.93,515.16 L777.08,517.68 L777.3,520 L777.44,521.3 L777.55,522.55 L777.67,523.74 L777.79,524.88 L777.93,525.96 L778.12,526.99 L778.35,527.95 L778.65,528.86 L779.03,529.71 L779.5,530.5 L779.98,531.13 L780.52,531.71 L781.11,532.23 L781.74,532.7 L782.42,533.14 L783.14,533.54 L783.9,533.91 L784.7,534.25 L785.53,534.58 L786.4,534.9 L787.71,535.31 L789.14,535.64 L790.67,535.92 L792.28,536.14 L793.95,536.31 L795.67,536.45 L797.43,536.56 L799.19,536.65 L800.96,536.73 L802.7,536.8 L804.65,536.86 L806.65,536.88 L808.68,536.85 L810.73,536.8 L812.8,536.72 L814.89,536.63 L816.98,536.52 L819.07,536.41 L821.14,536.3 L823.2,536.2 L825.23,536.1 L827.25,535.99 L829.27,535.88 L831.27,535.75 L833.29,535.62 L835.31,535.49 L837.34,535.35 L839.4,535.2 L841.48,535.05 L843.6,534.9 L845.97,534.72 L848.37,534.54 L850.81,534.35 L853.28,534.15 L855.76,533.94 L858.25,533.74 L860.75,533.53 L863.25,533.32 L865.73,533.11 L868.2,532.9 L870.68,532.69 L873.22,532.47 L875.78,532.25 L878.34,532.03 L880.89,531.8 L883.41,531.58 L885.87,531.37 L888.25,531.17 L890.54,530.98 L892.7,530.8 L894.29,530.63 L895.9,530.39 L897.5,530.12 L899.08,529.84 L900.59,529.59 L902.03,529.39 L903.35,529.28 L904.54,529.29 L905.56,529.46 L906.4,529.8 L906.79,530.13 L907.06,530.56 L907.25,531.05 L907.38,531.6 L907.47,532.17 L907.57,532.75 L907.69,533.31 L907.87,533.84 L908.13,534.31 L908.5,534.7 L909.24,535.14 L910.14,535.47 L911.18,535.71 L912.33,535.87 L913.56,535.99 L914.85,536.07 L916.16,536.14 L917.48,536.22 L918.77,536.34 L920,536.5 L921.29,536.71 L922.57,536.93 L923.84,537.14 L925.12,537.37 L926.42,537.59 L927.74,537.82 L929.12,538.05 L930.54,538.3 L932.03,538.54 L933.6,538.8 L936.09,539.21 L938.83,539.68 L941.77,540.18 L944.84,540.71 L947.97,541.23 L951.1,541.74 L954.15,542.2 L957.06,542.62 L959.77,542.95 L962.2,543.2 L963.67,543.31 L965.08,543.39 L966.45,543.45 L967.76,543.48 L969.03,543.49 L970.25,543.49 L971.41,543.48 L972.53,543.46 L973.59,543.43 L974.6,543.4 L975.22,543.39 L975.8,543.39 L976.33,543.39 L976.85,543.39 L977.34,543.38 L977.83,543.36 L978.34,543.32 L978.86,543.25 L979.41,543.14 L980,543 L980.96,542.66 L981.99,542.16 L983.05,541.54 L984.16,540.86 L985.3,540.14 L986.46,539.44 L987.62,538.79 L988.79,538.24 L989.96,537.83 L991.1,537.6 L992.2,537.58 L993.31,537.75 L994.42,538.04 L995.55,538.43 L996.67,538.87 L997.8,539.3 L998.91,539.7 L1000.02,540.01 L1001.12,540.19 L1002.2,540.2 L1003.24,540.01 L1004.25,539.66 L1005.23,539.18 L1006.21,538.62 L1007.19,538.02 L1008.17,537.41 L1009.17,536.85 L1010.21,536.37 L1011.28,536 L1012.4,535.8 L1013.83,535.76 L1015.33,535.88 L1016.88,536.13 L1018.49,536.48 L1020.12,536.91 L1021.75,537.4 L1023.39,537.91 L1025,538.41 L1026.58,538.88 L1028.1,539.3 L1029.45,539.66 L1030.76,540.04 L1032.04,540.44 L1033.31,540.84 L1034.57,541.24 L1035.83,541.64 L1037.1,542.02 L1038.4,542.38 L1039.73,542.71 L1041.1,543 L1042.67,543.29 L1044.28,543.56 L1045.91,543.8 L1047.57,544.02 L1049.25,544.22 L1050.94,544.38 L1052.65,544.53 L1054.37,544.65 L1056.08,544.74 L1057.8,544.8 L1059.62,544.82 L1061.47,544.77 L1063.34,544.68 L1065.23,544.56 L1067.12,544.42 L1069,544.27 L1070.87,544.13 L1072.72,544.01 L1074.53,543.93 L1076.3,543.9 L1077.85,543.92 L1079.37,543.97 L1080.86,544.05 L1082.34,544.14 L1083.8,544.24 L1085.26,544.35 L1086.71,544.44 L1088.17,544.52 L1089.63,544.58 L1091.1,544.6 L1092.57,544.58 L1094.03,544.52 L1095.49,544.43 L1096.94,544.32 L1098.4,544.2 L1099.87,544.1 L1101.34,544.01 L1102.84,543.96 L1104.36,543.95 L1105.9,544 L1107.67,544.13 L1109.47,544.31 L1111.3,544.55 L1113.15,544.82 L1115.02,545.13 L1116.9,545.45 L1118.78,545.78 L1120.67,546.1 L1122.54,546.41 L1124.4,546.7 L1126.26,546.97 L1128.12,547.25 L1129.98,547.54 L1131.84,547.82 L1133.7,548.1 L1135.56,548.38 L1137.42,548.65 L1139.28,548.91 L1141.14,549.16 L1143,549.4 L1144.84,549.63 L1146.67,549.84 L1148.5,550.05 L1150.32,550.26 L1152.14,550.45 L1153.98,550.64 L1155.82,550.82 L1157.69,550.99 L1159.58,551.15 L1161.5,551.3 L1163.63,551.44 L1165.78,551.54 L1167.96,551.62 L1170.16,551.69 L1172.37,551.75 L1174.61,551.82 L1176.86,551.91 L1179.13,552.03 L1181.41,552.19 L1183.7,552.4 L1186.23,552.72 L1188.81,553.12 L1191.43,553.59 L1194.07,554.1 L1196.72,554.63 L1199.36,555.14 L1201.99,555.62 L1204.58,556.04 L1207.12,556.38 L1209.6,556.6 L1211.72,556.69 L1213.78,556.68 L1215.79,556.61 L1217.78,556.49 L1219.75,556.34 L1221.73,556.19 L1223.73,556.06 L1225.76,555.97 L1227.85,555.94 L1230,556 L1232.61,556.18 L1235.29,556.44 L1238.03,556.76 L1240.82,557.14 L1243.63,557.56 L1246.48,557.99 L1249.32,558.43 L1252.17,558.86 L1255,559.25 L1257.8,559.6 L1260.58,559.91 L1263.36,560.21 L1266.14,560.5 L1268.92,560.79 L1271.7,561.06 L1274.48,561.33 L1277.26,561.6 L1280.04,561.87 L1282.82,562.13 L1285.6,562.4 L1288.37,562.67 L1291.13,562.95 L1293.88,563.22 L1296.63,563.5 L1299.39,563.77 L1302.15,564.04 L1304.92,564.3 L1307.7,564.54 L1310.49,564.78 L1313.3,565 L1316.23,565.21 L1319.17,565.4 L1322.13,565.58 L1325.1,565.75 L1328.08,565.91 L1331.07,566.07 L1334.06,566.22 L1337.04,566.38 L1340.03,566.53 L1343,566.7' fill='none' stroke='#06781e' stroke-width='5'/>
</g>
<text x='766.5' y='590.7' font-size='24' font-weight='bold' fill='#111' text-anchor='end'>0.0</text>
<text x='766.5' y='487.3' font-size='24' font-weight='bold' fill='#111' text-anchor='end'>0.2</text>
<text x='766.5' y='383.9' font-size='24' font-weight='bold' fill='#111' text-anchor='end'>0.4</text>
<text x='766.5' y='280.5' font-size='24' font-weight='bold' fill='#111' text-anchor='end'>0.6</text>
<text x='766.5' y='177.1' font-size='24' font-weight='bold' fill='#111' text-anchor='end'>0.8</text>
<text x='766.5' y='73.7' font-size='24' font-weight='bold' fill='#111' text-anchor='end'>1.0</text>
<text x='775.8' y='608.5' font-size='21.5' font-weight='bold' fill='#111' text-anchor='middle'>0</text>
<text x='889.2' y='608.5' font-size='21.5' font-weight='bold' fill='#111' text-anchor='middle'>500</text>
<text x='1002.6' y='608.5' font-size='21.5' font-weight='bold' fill='#111' text-anchor='middle'>1000</text>
<text x='1116' y='608.5' font-size='21.5' font-weight='bold' fill='#111' text-anchor='middle'>1500</text>
<text x='1229.4' y='608.5' font-size='21.5' font-weight='bold' fill='#111' text-anchor='middle'>2000</text>
<text x='1002' y='648.5' font-size='31.2' font-weight='bold' fill='#111' textLength='118.5' lengthAdjust='spacingAndGlyphs'>Time / s</text>
<text x='722' y='408.5' font-size='32' font-weight='bold' fill='#111' textLength='196' lengthAdjust='spacingAndGlyphs' transform='rotate(-90 722 408.5)'>Current / mA</text>
<line x1='1134.2' y1='84.2' x2='1200.8' y2='84.2' stroke='#06781e' stroke-width='4'/>
<text x='1207' y='92.4' font-size='24.5' font-weight='bold' fill='#111' textLength='65.5' lengthAdjust='spacingAndGlyphs'>1.05V</text>
<line x1='1134.2' y1='118.3' x2='1200.8' y2='118.3' stroke='#1a06c8' stroke-width='4'/>
<text x='1207' y='126.5' font-size='24.5' font-weight='bold' fill='#111' textLength='51.5' lengthAdjust='spacingAndGlyphs'>1.1V</text>
<line x1='1134.2' y1='151.7' x2='1200.8' y2='151.7' stroke='#f5883a' stroke-width='4'/>
<text x='1207' y='159.9' font-size='24.5' font-weight='bold' fill='#111' textLength='65.5' lengthAdjust='spacingAndGlyphs'>1.15V</text>
<text x='870.3' y='269.4' font-size='30.5' font-weight='bold' fill='#f0842c' textLength='79' lengthAdjust='spacingAndGlyphs'>1.15V</text>
<line x1='863.6' y1='262.1' x2='806' y2='291.5' stroke='#f2a060' stroke-width='1.5'/>
<polygon points='797,295.5 804.15,287.44 807.73,294.59' fill='#f5883a'/>
<text x='900.8' y='425.8' font-size='30.5' font-weight='bold' fill='#2020d0' textLength='62' lengthAdjust='spacingAndGlyphs'>1.1V</text>
<line x1='895.8' y1='414.2' x2='832' y2='439.5' stroke='#3535c8' stroke-width='1.5'/>
<polygon points='820,444.2 831.55,435.33 834.49,442.77' fill='#1a14d0'/>
<text x='983.3' y='507.5' font-size='30.5' font-weight='bold' fill='#0e8a34' textLength='78.5' lengthAdjust='spacingAndGlyphs'>1.05V</text>
<line x1='976' y1='504.8' x2='924' y2='523.5' stroke='#2a7a40' stroke-width='1.5'/>
<polygon points='910.5,528 923.3,519.22 925.97,526.76' fill='#0b7d2f'/>
<rect x='1456.7' y='15.3' width='558.8' height='561.4' fill='none' stroke='#111' stroke-width='2.6'/>
<line x1='1485.8' y1='576.7' x2='1485.8' y2='565.2' stroke='#111' stroke-width='2.2'/>
<line x1='1485.8' y1='15.3' x2='1485.8' y2='26.8' stroke='#111' stroke-width='2.2'/>
<line x1='1574.19' y1='576.7' x2='1574.19' y2='570.2' stroke='#111' stroke-width='2.2'/>
<line x1='1574.19' y1='15.3' x2='1574.19' y2='21.8' stroke='#111' stroke-width='2.2'/>
<line x1='1662.59' y1='576.7' x2='1662.59' y2='565.2' stroke='#111' stroke-width='2.2'/>
<line x1='1662.59' y1='15.3' x2='1662.59' y2='26.8' stroke='#111' stroke-width='2.2'/>
<line x1='1750.98' y1='576.7' x2='1750.98' y2='570.2' stroke='#111' stroke-width='2.2'/>
<line x1='1750.98' y1='15.3' x2='1750.98' y2='21.8' stroke='#111' stroke-width='2.2'/>
<line x1='1839.38' y1='576.7' x2='1839.38' y2='565.2' stroke='#111' stroke-width='2.2'/>
<line x1='1839.38' y1='15.3' x2='1839.38' y2='26.8' stroke='#111' stroke-width='2.2'/>
<line x1='1927.78' y1='576.7' x2='1927.78' y2='570.2' stroke='#111' stroke-width='2.2'/>
<line x1='1927.78' y1='15.3' x2='1927.78' y2='21.8' stroke='#111' stroke-width='2.2'/>
<line x1='2016.17' y1='576.7' x2='2016.17' y2='565.2' stroke='#111' stroke-width='2.2'/>
<line x1='2016.17' y1='15.3' x2='2016.17' y2='26.8' stroke='#111' stroke-width='2.2'/>
<line x1='1456.7' y1='548.1' x2='1463.2' y2='548.1' stroke='#111' stroke-width='2.2'/>
<line x1='2015.5' y1='548.1' x2='2009.5' y2='548.1' stroke='#111' stroke-width='2.2'/>
<line x1='1456.7' y1='519.5' x2='1468.7' y2='519.5' stroke='#111' stroke-width='2.2'/>
<line x1='2015.5' y1='519.5' x2='2005.5' y2='519.5' stroke='#111' stroke-width='2.2'/>
<line x1='1456.7' y1='490.9' x2='1463.2' y2='490.9' stroke='#111' stroke-width='2.2'/>
<line x1='2015.5' y1='490.9' x2='2009.5' y2='490.9' stroke='#111' stroke-width='2.2'/>
<line x1='1456.7' y1='462.3' x2='1468.7' y2='462.3' stroke='#111' stroke-width='2.2'/>
<line x1='2015.5' y1='462.3' x2='2005.5' y2='462.3' stroke='#111' stroke-width='2.2'/>
<line x1='1456.7' y1='433.7' x2='1463.2' y2='433.7' stroke='#111' stroke-width='2.2'/>
<line x1='2015.5' y1='433.7' x2='2009.5' y2='433.7' stroke='#111' stroke-width='2.2'/>
<line x1='1456.7' y1='405.1' x2='1468.7' y2='405.1' stroke='#111' stroke-width='2.2'/>
<line x1='2015.5' y1='405.1' x2='2005.5' y2='405.1' stroke='#111' stroke-width='2.2'/>
<line x1='1456.7' y1='376.5' x2='1463.2' y2='376.5' stroke='#111' stroke-width='2.2'/>
<line x1='2015.5' y1='376.5' x2='2009.5' y2='376.5' stroke='#111' stroke-width='2.2'/>
<line x1='1456.7' y1='347.9' x2='1468.7' y2='347.9' stroke='#111' stroke-width='2.2'/>
<line x1='2015.5' y1='347.9' x2='2005.5' y2='347.9' stroke='#111' stroke-width='2.2'/>
<line x1='1456.7' y1='319.3' x2='1463.2' y2='319.3' stroke='#111' stroke-width='2.2'/>
<line x1='2015.5' y1='319.3' x2='2009.5' y2='319.3' stroke='#111' stroke-width='2.2'/>
<line x1='1456.7' y1='290.7' x2='1468.7' y2='290.7' stroke='#111' stroke-width='2.2'/>
<line x1='2015.5' y1='290.7' x2='2005.5' y2='290.7' stroke='#111' stroke-width='2.2'/>
<line x1='1456.7' y1='262.1' x2='1463.2' y2='262.1' stroke='#111' stroke-width='2.2'/>
<line x1='2015.5' y1='262.1' x2='2009.5' y2='262.1' stroke='#111' stroke-width='2.2'/>
<line x1='1456.7' y1='233.5' x2='1468.7' y2='233.5' stroke='#111' stroke-width='2.2'/>
<line x1='2015.5' y1='233.5' x2='2005.5' y2='233.5' stroke='#111' stroke-width='2.2'/>
<line x1='1456.7' y1='204.9' x2='1463.2' y2='204.9' stroke='#111' stroke-width='2.2'/>
<line x1='2015.5' y1='204.9' x2='2009.5' y2='204.9' stroke='#111' stroke-width='2.2'/>
<line x1='1456.7' y1='176.3' x2='1468.7' y2='176.3' stroke='#111' stroke-width='2.2'/>
<line x1='2015.5' y1='176.3' x2='2005.5' y2='176.3' stroke='#111' stroke-width='2.2'/>
<line x1='1456.7' y1='147.7' x2='1463.2' y2='147.7' stroke='#111' stroke-width='2.2'/>
<line x1='2015.5' y1='147.7' x2='2009.5' y2='147.7' stroke='#111' stroke-width='2.2'/>
<line x1='1456.7' y1='119.1' x2='1468.7' y2='119.1' stroke='#111' stroke-width='2.2'/>
<line x1='2015.5' y1='119.1' x2='2005.5' y2='119.1' stroke='#111' stroke-width='2.2'/>
<line x1='1456.7' y1='90.5' x2='1463.2' y2='90.5' stroke='#111' stroke-width='2.2'/>
<line x1='2015.5' y1='90.5' x2='2009.5' y2='90.5' stroke='#111' stroke-width='2.2'/>
<line x1='1456.7' y1='61.9' x2='1468.7' y2='61.9' stroke='#111' stroke-width='2.2'/>
<line x1='2015.5' y1='61.9' x2='2005.5' y2='61.9' stroke='#111' stroke-width='2.2'/>
<line x1='1456.7' y1='33.3' x2='1463.2' y2='33.3' stroke='#111' stroke-width='2.2'/>
<line x1='2015.5' y1='33.3' x2='2009.5' y2='33.3' stroke='#111' stroke-width='2.2'/>
<text x='1454' y='583.3' font-size='25' font-weight='bold' fill='#111' text-anchor='end'>0</text>
<text x='1454' y='526.1' font-size='25' font-weight='bold' fill='#111' text-anchor='end'>5</text>
<text x='1454' y='468.9' font-size='25' font-weight='bold' fill='#111' text-anchor='end'>10</text>
<text x='1454' y='411.7' font-size='25' font-weight='bold' fill='#111' text-anchor='end'>15</text>
<text x='1454' y='354.5' font-size='25' font-weight='bold' fill='#111' text-anchor='end'>20</text>
<text x='1454' y='297.3' font-size='25' font-weight='bold' fill='#111' text-anchor='end'>25</text>
<text x='1454' y='240.1' font-size='25' font-weight='bold' fill='#111' text-anchor='end'>30</text>
<text x='1454' y='182.9' font-size='25' font-weight='bold' fill='#111' text-anchor='end'>35</text>
<text x='1454' y='125.7' font-size='25' font-weight='bold' fill='#111' text-anchor='end'>40</text>
<text x='1454' y='68.5' font-size='25' font-weight='bold' fill='#111' text-anchor='end'>45</text>
<text x='1485.8' y='601.7' font-size='26' font-weight='bold' fill='#111' text-anchor='middle'>0</text>
<text x='1662.59' y='601.7' font-size='26' font-weight='bold' fill='#111' text-anchor='middle' textLength='61.5' lengthAdjust='spacingAndGlyphs'>3000</text>
<text x='1839.38' y='601.7' font-size='26' font-weight='bold' fill='#111' text-anchor='middle' textLength='61.5' lengthAdjust='spacingAndGlyphs'>6000</text>
<text x='2016.17' y='601.7' font-size='26' font-weight='bold' fill='#111' text-anchor='middle' textLength='61.5' lengthAdjust='spacingAndGlyphs'>9000</text>
<text x='1591' y='645.2' font-size='29.5' font-weight='bold' fill='#111' textLength='287.5' lengthAdjust='spacingAndGlyphs'>Dealloying Time / s</text>
<text x='1412.5' y='538.5' font-size='32' font-weight='bold' fill='#111' textLength='443.5' lengthAdjust='spacingAndGlyphs' transform='rotate(-90 1412.5 538.5)'>Ligament and Pore Size / nm</text>
<line x1='1483.3' y1='409.68' x2='1483.3' y2='449.72' stroke='#1a10cc' stroke-width='2.8'/>
<line x1='1476.3' y1='409.68' x2='1490.3' y2='409.68' stroke='#1a10cc' stroke-width='3.4'/>
<line x1='1476.3' y1='449.72' x2='1490.3' y2='449.72' stroke='#1a10cc' stroke-width='3.4'/>
<line x1='1485' y1='395.95' x2='1485' y2='437.13' stroke='#1a10cc' stroke-width='2.8'/>
<line x1='1478' y1='395.95' x2='1492' y2='395.95' stroke='#1a10cc' stroke-width='3.4'/>
<line x1='1478' y1='437.13' x2='1492' y2='437.13' stroke='#1a10cc' stroke-width='3.4'/>
<line x1='1490' y1='376.5' x2='1490' y2='417.68' stroke='#1a10cc' stroke-width='2.8'/>
<line x1='1483' y1='376.5' x2='1497' y2='376.5' stroke='#1a10cc' stroke-width='3.4'/>
<line x1='1483' y1='417.68' x2='1497' y2='417.68' stroke='#1a10cc' stroke-width='3.4'/>
<line x1='1495' y1='370.21' x2='1495' y2='397.66' stroke='#1a10cc' stroke-width='2.8'/>
<line x1='1488' y1='370.21' x2='1502' y2='370.21' stroke='#1a10cc' stroke-width='3.4'/>
<line x1='1488' y1='397.66' x2='1502' y2='397.66' stroke='#1a10cc' stroke-width='3.4'/>
<line x1='1515.26' y1='301.57' x2='1515.26' y2='370.21' stroke='#1a10cc' stroke-width='2.8'/>
<line x1='1508.26' y1='301.57' x2='1522.26' y2='301.57' stroke='#1a10cc' stroke-width='3.4'/>
<line x1='1508.26' y1='370.21' x2='1522.26' y2='370.21' stroke='#1a10cc' stroke-width='3.4'/>
<line x1='1603.66' y1='107.66' x2='1603.66' y2='222.06' stroke='#1a10cc' stroke-width='2.8'/>
<line x1='1596.66' y1='107.66' x2='1610.66' y2='107.66' stroke='#1a10cc' stroke-width='3.4'/>
<line x1='1596.66' y1='222.06' x2='1610.66' y2='222.06' stroke='#1a10cc' stroke-width='3.4'/>
<path d='M1483.3,430.27 L1485,416.54 L1490,397.09 L1495,380.5 L1515.26,339.89 L1603.66,167.15' fill='none' stroke='#1a10cc' stroke-width='3.5'/>
<polygon points='1469.9,419.87 1496.7,419.87 1483.3,440.67' fill='#fff' stroke='#1a10cc' stroke-width='2.2' stroke-linejoin='miter'/>
<polygon points='1469.9,419.87 1496.7,419.87 1491.55,427.87 1475.05,427.87' fill='#1a10cc'/>
<polygon points='1471.6,406.14 1498.4,406.14 1485,426.94' fill='#fff' stroke='#1a10cc' stroke-width='2.2' stroke-linejoin='miter'/>
<polygon points='1471.6,406.14 1498.4,406.14 1493.25,414.14 1476.75,414.14' fill='#1a10cc'/>
<polygon points='1476.6,386.69 1503.4,386.69 1490,407.49' fill='#fff' stroke='#1a10cc' stroke-width='2.2' stroke-linejoin='miter'/>
<polygon points='1476.6,386.69 1503.4,386.69 1498.25,394.69 1481.75,394.69' fill='#1a10cc'/>
<polygon points='1481.6,370.1 1508.4,370.1 1495,390.9' fill='#fff' stroke='#1a10cc' stroke-width='2.2' stroke-linejoin='miter'/>
<polygon points='1481.6,370.1 1508.4,370.1 1503.25,378.1 1486.75,378.1' fill='#1a10cc'/>
<polygon points='1501.86,329.49 1528.66,329.49 1515.26,350.29' fill='#fff' stroke='#1a10cc' stroke-width='2.2' stroke-linejoin='miter'/>
<polygon points='1501.86,329.49 1528.66,329.49 1523.51,337.49 1507.02,337.49' fill='#1a10cc'/>
<polygon points='1590.26,156.75 1617.06,156.75 1603.66,177.55' fill='#fff' stroke='#1a10cc' stroke-width='2.2' stroke-linejoin='miter'/>
<polygon points='1590.26,156.75 1617.06,156.75 1611.91,164.75 1595.41,164.75' fill='#1a10cc'/>
<line x1='1517' y1='382.22' x2='1517' y2='450.86' stroke='#0a7a26' stroke-width='2.8'/>
<line x1='1510' y1='382.22' x2='1524' y2='382.22' stroke='#0a7a26' stroke-width='3.4'/>
<line x1='1510' y1='450.86' x2='1524' y2='450.86' stroke='#0a7a26' stroke-width='3.4'/>
<path d='M1517,416.54 L1544.73,405.1 L1603.66,393.66 L1721.52,359.34 L1957.24,119.1' fill='none' stroke='#0a7a26' stroke-width='3.8'/>
<rect x='1507.5' y='407.04' width='19' height='19' fill='#0a7a26'/>
<rect x='1535.23' y='395.6' width='19' height='19' fill='#0a7a26'/>
<rect x='1594.16' y='384.16' width='19' height='19' fill='#0a7a26'/>
<rect x='1712.02' y='349.84' width='19' height='19' fill='#0a7a26'/>
<rect x='1947.74' y='109.6' width='19' height='19' fill='#0a7a26'/>
<line x1='1491.7' y1='437.13' x2='1491.7' y2='482.89' stroke='#f88420' stroke-width='2.4'/>
<line x1='1484.7' y1='437.13' x2='1498.7' y2='437.13' stroke='#f88420' stroke-width='3'/>
<line x1='1484.7' y1='482.89' x2='1498.7' y2='482.89' stroke='#f88420' stroke-width='3'/>
<line x1='1498.3' y1='419.97' x2='1498.3' y2='477.17' stroke='#f88420' stroke-width='2.4'/>
<line x1='1491.3' y1='419.97' x2='1505.3' y2='419.97' stroke='#f88420' stroke-width='3'/>
<line x1='1491.3' y1='477.17' x2='1505.3' y2='477.17' stroke='#f88420' stroke-width='3'/>
<line x1='1515.26' y1='379.93' x2='1515.26' y2='452' stroke='#f88420' stroke-width='2.4'/>
<line x1='1508.26' y1='379.93' x2='1522.26' y2='379.93' stroke='#f88420' stroke-width='3'/>
<line x1='1508.26' y1='452' x2='1522.26' y2='452' stroke='#f88420' stroke-width='3'/>
<line x1='1603.66' y1='210.62' x2='1603.66' y2='302.14' stroke='#f88420' stroke-width='2.4'/>
<line x1='1596.66' y1='210.62' x2='1610.66' y2='210.62' stroke='#f88420' stroke-width='3'/>
<line x1='1596.66' y1='302.14' x2='1610.66' y2='302.14' stroke='#f88420' stroke-width='3'/>
<line x1='1721.52' y1='164.86' x2='1721.52' y2='279.26' stroke='#f88420' stroke-width='2.4'/>
<line x1='1714.52' y1='164.86' x2='1728.52' y2='164.86' stroke='#f88420' stroke-width='3'/>
<line x1='1714.52' y1='279.26' x2='1728.52' y2='279.26' stroke='#f88420' stroke-width='3'/>
<line x1='1957.24' y1='130.54' x2='1957.24' y2='244.94' stroke='#f88420' stroke-width='2.4'/>
<line x1='1950.24' y1='130.54' x2='1964.24' y2='130.54' stroke='#f88420' stroke-width='3'/>
<line x1='1950.24' y1='244.94' x2='1964.24' y2='244.94' stroke='#f88420' stroke-width='3'/>
<path d='M1491.7,460.01 L1498.3,448.57 L1515.26,405.1 L1603.66,256.38 L1721.52,222.06 L1957.24,187.74' fill='none' stroke='#f88420' stroke-width='3.4'/>
<circle cx='1491.7' cy='460.01' r='11' fill='#f88420'/>
<circle cx='1498.3' cy='448.57' r='11' fill='#f88420'/>
<circle cx='1515.26' cy='405.1' r='11' fill='#f88420'/>
<circle cx='1603.66' cy='256.38' r='11' fill='#f88420'/>
<circle cx='1721.52' cy='222.06' r='11' fill='#f88420'/>
<circle cx='1957.24' cy='187.74' r='11' fill='#f88420'/>
<line x1='1544.73' y1='370.78' x2='1544.73' y2='439.42' stroke='#0a7a26' stroke-width='2.8'/>
<line x1='1537.73' y1='370.78' x2='1551.73' y2='370.78' stroke='#0a7a26' stroke-width='3.4'/>
<line x1='1537.73' y1='439.42' x2='1551.73' y2='439.42' stroke='#0a7a26' stroke-width='3.4'/>
<line x1='1603.66' y1='347.9' x2='1603.66' y2='439.42' stroke='#0a7a26' stroke-width='2.8'/>
<line x1='1596.66' y1='347.9' x2='1610.66' y2='347.9' stroke='#0a7a26' stroke-width='3.4'/>
<line x1='1596.66' y1='439.42' x2='1610.66' y2='439.42' stroke='#0a7a26' stroke-width='3.4'/>
<line x1='1721.52' y1='313.58' x2='1721.52' y2='405.1' stroke='#0a7a26' stroke-width='2.8'/>
<line x1='1714.52' y1='313.58' x2='1728.52' y2='313.58' stroke='#0a7a26' stroke-width='3.4'/>
<line x1='1714.52' y1='405.1' x2='1728.52' y2='405.1' stroke='#0a7a26' stroke-width='3.4'/>
<line x1='1957.24' y1='50.46' x2='1957.24' y2='187.74' stroke='#0a7a26' stroke-width='2.8'/>
<line x1='1950.24' y1='50.46' x2='1964.24' y2='50.46' stroke='#0a7a26' stroke-width='3.4'/>
<line x1='1950.24' y1='187.74' x2='1964.24' y2='187.74' stroke='#0a7a26' stroke-width='3.4'/>
<line x1='1751.8' y1='447.6' x2='1826.7' y2='447.6' stroke='#1a10cc' stroke-width='4'/>
<polygon points='1776.25,438.65 1802.75,438.65 1789.5,462.35' fill='#fff' stroke='#1a10cc' stroke-width='2.2' stroke-linejoin='miter'/>
<polygon points='1776.25,438.65 1802.75,438.65 1798.28,446.65 1780.72,446.65' fill='#1a10cc'/>
<line x1='1751.8' y1='487' x2='1826.7' y2='487' stroke='#0a7a26' stroke-width='3.5'/>
<rect x='1778.5' y='477' width='20.5' height='20' fill='#0a7a26'/>
<line x1='1751.8' y1='527.4' x2='1826.7' y2='527.4' stroke='#f88420' stroke-width='3.5'/>
<circle cx='1789.3' cy='527.4' r='11' fill='#f88420'/>
<text x='1835' y='457.4' font-size='29.5' font-weight='bold' fill='#111' textLength='63.5' lengthAdjust='spacingAndGlyphs'>Free</text>
<text x='1835' y='496.8' font-size='29.5' font-weight='bold' fill='#111' textLength='147' lengthAdjust='spacingAndGlyphs'>1.05 V Ele</text>
<text x='1835' y='538.2' font-size='29.5' font-weight='bold' fill='#111' textLength='147' lengthAdjust='spacingAndGlyphs'>1.15 V Ele</text>
<text transform='translate(6.3,48.2) scale(1.3,1)' font-size='41' font-weight='300' fill='#111' font-family="'Noto Sans CJK SC', 'Liberation Sans', sans-serif">(</text>
<text x='23.5' y='51' font-size='41' font-weight='500' fill='#111' font-family="'Noto Sans CJK SC', 'Liberation Sans', sans-serif">a</text>
<text transform='translate(45.9,48.2) scale(1.3,1)' font-size='41' font-weight='300' fill='#111' font-family="'Noto Sans CJK SC', 'Liberation Sans', sans-serif">)</text>
<text transform='translate(691.2,45) scale(1.3,1)' font-size='41' font-weight='300' fill='#111' font-family="'Noto Sans CJK SC', 'Liberation Sans', sans-serif">(</text>
<text x='709.7' y='48.3' font-size='41' font-weight='500' fill='#111' font-family="'Noto Sans CJK SC', 'Liberation Sans', sans-serif">b</text>
<text transform='translate(734.4,45) scale(1.3,1)' font-size='41' font-weight='300' fill='#111' font-family="'Noto Sans CJK SC', 'Liberation Sans', sans-serif">)</text>
<text transform='translate(1371.2,51.8) scale(1.4,1)' font-size='41' font-weight='300' fill='#111' font-family="'Noto Sans CJK SC', 'Liberation Sans', sans-serif">(</text>
<text x='1388.8' y='53.6' font-size='41' font-weight='500' fill='#111' font-family="'Noto Sans CJK SC', 'Liberation Sans', sans-serif">c</text>
<text transform='translate(1410.5,51.8) scale(1.4,1)' font-size='41' font-weight='300' fill='#111' font-family="'Noto Sans CJK SC', 'Liberation Sans', sans-serif">)</text>
</svg>
</body></html>
